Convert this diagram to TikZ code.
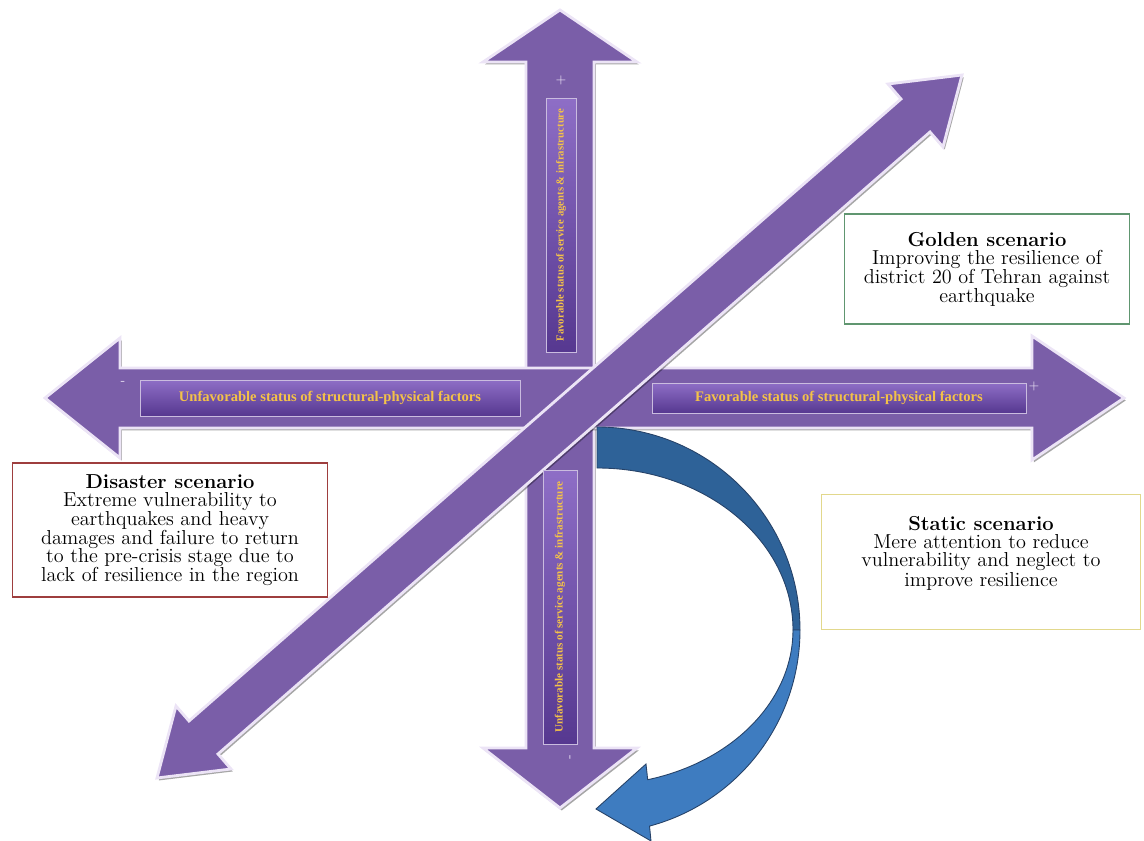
\documentclass[tikz,border=0pt]{standalone}
\usepackage{fontspec}
\newfontfamily\barfont{Liberation Serif}
\usetikzlibrary{shadows}
\definecolor{purp}{RGB}{122,94,168}
\definecolor{lav}{RGB}{236,228,246}
\definecolor{bardark}{RGB}{86,56,144}
\definecolor{barlight}{RGB}{142,110,198}
\definecolor{labyel}{RGB}{244,194,72}
\definecolor{bluedark}{RGB}{46,98,152}
\definecolor{bluelight}{RGB}{62,124,192}
\definecolor{blueline}{RGB}{38,66,104}
\definecolor{goldline}{RGB}{96,150,112}
\definecolor{redline}{RGB}{158,62,62}
\definecolor{statline}{RGB}{226,216,140}
\begin{document}
\begin{tikzpicture}[x=0.02cm, y=-0.02cm,
    parrow/.style={fill=purp, draw=lav, line width=1.6pt, drop shadow={shadow xshift=1pt, shadow yshift=-1.4pt, fill=black, opacity=0.35}},
    labelbar/.style={draw=lav!70!purp, line width=0.5pt, top color=barlight, bottom color=bardark, text=labyel, inner sep=0pt, font=\barfont\fontsize{8.3}{9}\selectfont\bfseries},
    sign/.style={text=lav, inner sep=0pt, font=\fontsize{7}{7}\selectfont},
    scenbox/.style={fill=white, line width=0.6pt, align=center, inner sep=2pt, font=\fontsize{11.5}{10.6}\selectfont}]
    \useasboundingbox (0,0) rectangle (1144,841);
    % vertical axis
    \draw[parrow] (526,748) -- (526,62) -- (483,62) -- (560,10) -- (637,62) -- (594,62) -- (594,748) -- (637,748) -- (560,808) -- (483,748) -- cycle;
    % horizontal axis
    \draw[parrow] (120,368) -- (1032,368) -- (1032,336) -- (1124,398) -- (1032,460) -- (1032,428) -- (120,428) -- (120,458) -- (45,398) -- (120,338) -- cycle;
    % diagonal axis
    \draw[parrow] (157,778) -- (176,706) -- (189,721) -- (901,99) -- (888,84) -- (962,75) -- (943,147) -- (930,132) -- (218,754) -- (231,769) -- cycle;
    % curved blue arrow
    \filldraw[fill=bluedark, draw=blueline, line width=0.5pt] (597,427) arc[start angle=-90, end angle=0, radius=203] -- (793,630) arc[start angle=0, end angle=-90, x radius=196, y radius=162] -- cycle;
    \filldraw[fill=bluelight, draw=blueline, line width=0.5pt] (800,630) arc[start angle=0, end angle=75, radius=203] -- (651,841) -- (596,809) -- (646,764) -- (647.7,779.7) arc[start angle=75, end angle=0, x radius=196, y radius=155] -- cycle;
    % labels on the axes
    \node[labelbar, minimum width=7.6cm, minimum height=0.72cm] (unfavphys) at (330,398) {Unfavorable status of structural-physical factors};
    \node[labelbar, minimum width=7.48cm, minimum height=0.6cm] (favphys) at (839,398) {Favorable status of structural-physical factors};
    \node[labelbar, rotate=90, minimum width=5.08cm, minimum height=0.6cm, font=\barfont\fontsize{6.1}{7}\selectfont\bfseries] (favserv) at (561,225) {Favorable status of service agents \& infrastructure};
    \node[labelbar, rotate=90, minimum width=5.48cm, minimum height=0.68cm, font=\barfont\fontsize{6.3}{7}\selectfont\bfseries] (unfavserv) at (560,607) {Unfavorable status of service agents \& infrastructure};
    \node[sign] (plustop) at (561,80) {+};
    \node[sign] (minusleft) at (123,383) {-};
    \node[sign] (plusright) at (1034,386) {+};
    \node[sign, rotate=90] (minusbottom) at (571,757) {-};
    % scenarios
    \node[scenbox, draw=goldline, minimum width=5.7cm, minimum height=2.2cm] (golden) at (987,269) {\textbf{Golden scenario}\\Improving the resilience of\\district 20 of Tehran against\\earthquake};
    \node[scenbox, draw=redline, minimum width=6.32cm, minimum height=2.68cm] (disaster) at (170,530) {\textbf{Disaster scenario}\\Extreme vulnerability to\\earthquakes and heavy\\damages and failure to return\\to the pre-crisis stage due to\\lack of resilience in the region};
    \node[scenbox, draw=statline, minimum width=6.38cm, minimum height=2.7cm, font=\fontsize{11.5}{10}\selectfont] (static) at (981,562) {\textbf{Static scenario}\\Mere attention to reduce\\vulnerability and neglect to\\improve resilience\\[2pt]\mbox{}};
\end{tikzpicture}
\end{document}
